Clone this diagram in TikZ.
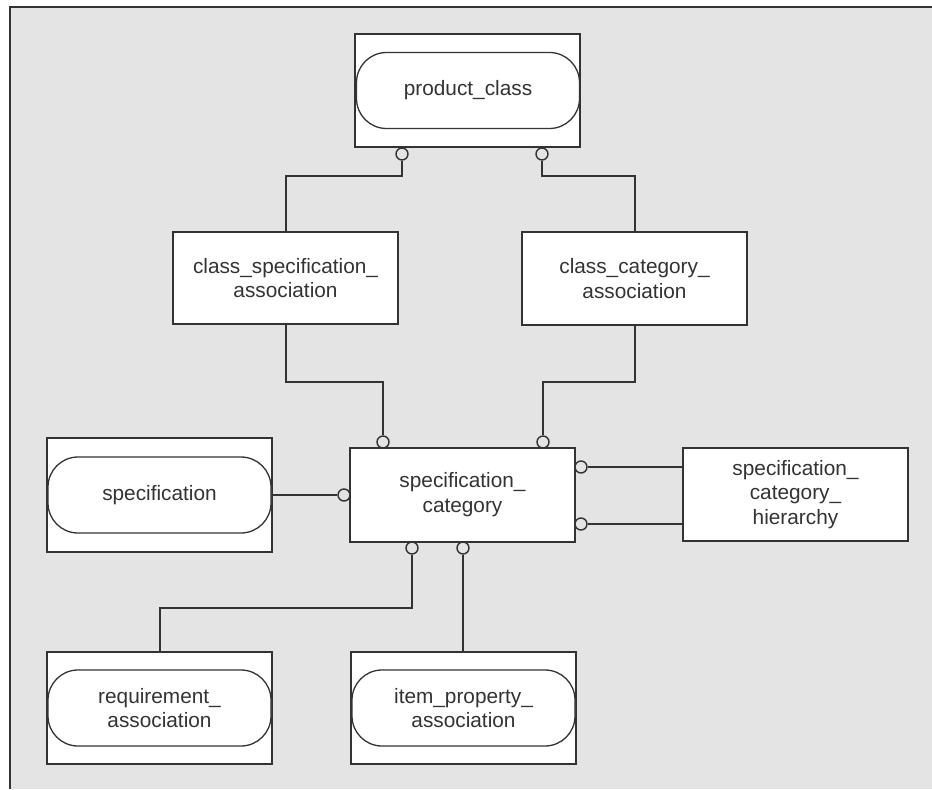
\documentclass[tikz,border=0pt]{standalone}
\usepackage{fontspec}
\setmainfont{Liberation Sans}
\usepackage{xcolor}
\definecolor{bg}{HTML}{E4E4E4}
\definecolor{ink}{HTML}{333333}

\begin{document}
\begin{tikzpicture}[x=0.5pt,y=0.5pt,
  entity/.style={draw=ink,fill=white,line width=0.85pt,minimum width=112.5pt,inner sep=0pt,text=ink,align=center,font=\fontsize{10.4}{12.4}\selectfont},
  pill/.style={draw=ink,fill=white,line width=0.65pt,rounded corners=15pt,minimum width=111.5pt,minimum height=38pt,inner sep=0pt,text=ink,align=center,font=\fontsize{10.4}{12.4}\selectfont},
  opt/.style={circle,draw=ink,fill=bg,line width=0.7pt,minimum size=6pt,inner sep=0pt},
  link/.style={draw=ink,line width=1pt}]

\useasboundingbox (0,0) rectangle (932,789);
\fill[white] (0,0) rectangle (932,789);
\fill[bg] (10,0) rectangle (932,782);
\draw[ink,line width=1pt] (10,0) -- (10,782) -- (932,782);

% Draw the entity boxes
\node[entity,minimum height=56.5pt] (prodclass) at (467.5,698.5) {};
\node[pill] (prodclasspill) at (468,698.5) {product\_class};
\node[entity,minimum height=46pt] (clspec) at (285.5,511) {class\_specification\_\\association};
\node[entity,minimum height=46.5pt] (clcat) at (634.5,510.5) {class\_category\_\\association};
\node[entity,minimum height=47pt] (speccat) at (462.5,294) {specification\_\\category};
\node[entity,minimum height=57pt] (spec) at (159.5,294) {};
\node[pill] (specpill) at (159.5,294) {specification};
\node[entity,minimum height=46.5pt] (hier) at (795.5,294.5) {specification\_\\category\_\\hierarchy};
\node[entity,minimum height=56pt] (reqassoc) at (159.5,81) {};
\node[pill] (reqassocpill) at (159.5,81) {requirement\_\\association};
\node[entity,minimum height=56pt] (itemprop) at (463.5,81) {};
\node[pill] (itemproppill) at (463.5,81) {item\_property\_\\association};

% Optional ends of the relationships
\node[opt] (pc1) at (402,635) {};
\node[opt] (pc2) at (542,635) {};
\node[opt] (sc1) at (383,347) {};
\node[opt] (sc2) at (543,347) {};
\node[opt] (sc3) at (344,294) {};
\node[opt] (sc4) at (581,322) {};
\node[opt] (sc5) at (581,265) {};
\node[opt] (sc6) at (412,241) {};
\node[opt] (sc7) at (463,241) {};

% Links between the entities
\draw[link] (pc1.south) -- ++(0,-15) -| (clspec.north);
\draw[link] (pc2.south) -- ++(0,-15) -| (clcat.north);
\draw[link] (clspec.south) -- ++(0,-57) -| (sc1.north);
\draw[link] (clcat.south) -- ++(0,-56) -| (sc2.north);
\draw[link] (spec.east) -- (sc3.west);
\draw[link] (sc4.east) -- (hier.west |- sc4);
\draw[link] (sc5.east) -- (hier.west |- sc5);
\draw[link] (sc6.south) -- ++(0,-53) -| (reqassoc.north);
\draw[link] (sc7.south) -- (sc7.south |- itemprop.north);

\end{tikzpicture}
\end{document}
